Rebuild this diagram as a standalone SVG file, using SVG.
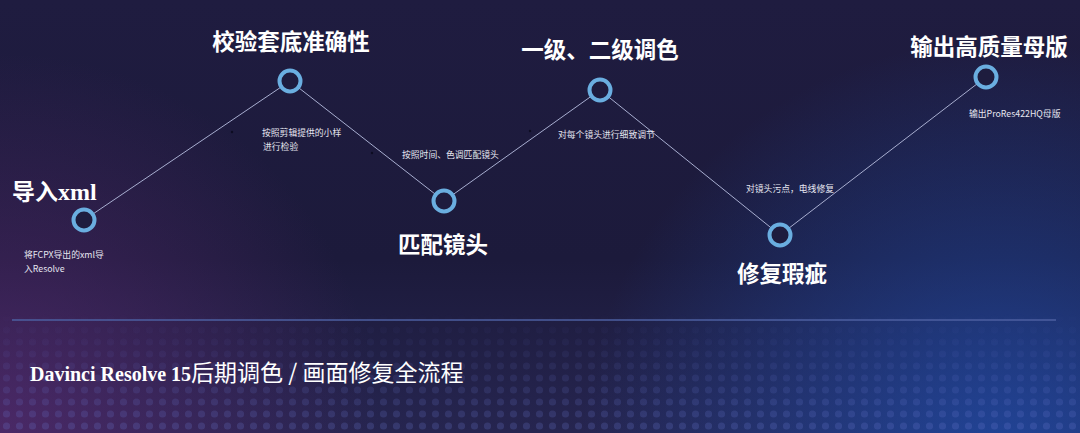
<svg xmlns="http://www.w3.org/2000/svg" width="1080" height="433" viewBox="0 0 1080 433">
<defs>
<linearGradient id="bg" x1="0" y1="0" x2="0" y2="1">
<stop offset="0" stop-color="#1f1c40"/>
<stop offset="0.6" stop-color="#1c1a3b"/>
<stop offset="1" stop-color="#262550"/>
</linearGradient>
<radialGradient id="purp" cx="0" cy="433" r="380" gradientUnits="userSpaceOnUse">
<stop offset="0" stop-color="#5a2a70" stop-opacity="0.7"/>
<stop offset="1" stop-color="#5a2a70" stop-opacity="0"/>
</radialGradient>
<radialGradient id="blue" cx="1000" cy="460" r="420" gradientUnits="userSpaceOnUse">
<stop offset="0" stop-color="#1f4fb0" stop-opacity="0.75"/>
<stop offset="1" stop-color="#1f4fb0" stop-opacity="0"/>
</radialGradient>
<pattern id="dots" width="13" height="12" patternUnits="userSpaceOnUse">
<circle cx="6.5" cy="6" r="3.6" fill="#6a78d0"/>
</pattern>
<linearGradient id="fade" x1="0" y1="0" x2="0" y2="1">
<stop offset="0" stop-color="#fff" stop-opacity="0"/>
<stop offset="1" stop-color="#fff" stop-opacity="0.25"/>
</linearGradient>
<mask id="m">
<rect x="0" y="310" width="1080" height="123" fill="url(#fade)"/>
</mask>
<style>
.node circle{fill:#1e1c3e;stroke:#6aaee0;stroke-width:4}
.title{font-family:"Noto Sans CJK SC","Noto Sans",sans-serif;font-weight:bold;font-size:22.5px;fill:#ffffff}
.small{font-family:"Noto Sans CJK SC","Noto Sans",sans-serif;font-size:8.8px;fill:#e6e6f0}
.serif{font-family:"Liberation Serif","Noto Sans CJK SC",serif;font-weight:bold}
.conn line{stroke:#a8aed0;stroke-width:1}
</style>
</defs>
<rect width="1080" height="433" fill="url(#bg)"/>
<rect width="1080" height="433" fill="url(#purp)"/>
<rect width="1080" height="433" fill="url(#blue)"/>
<rect x="0" y="310" width="1080" height="123" fill="url(#dots)" mask="url(#m)"/>
<line x1="12" y1="320" x2="1056" y2="320" stroke="#4d5fa0" stroke-width="1.5"/>

<g id="connectors" class="conn">
<line x1="84" y1="220" x2="290" y2="81"/>
<line x1="290" y1="81" x2="444" y2="201"/>
<line x1="444" y1="201" x2="600" y2="90"/>
<line x1="600" y1="90" x2="780" y2="235"/>
<line x1="780" y1="235" x2="986" y2="77"/>
</g>

<g id="bullets" fill="#0e0d22">
<circle cx="232" cy="132" r="1.2"/>
<circle cx="372" cy="153" r="1.2"/>
<circle cx="530" cy="131" r="1.2"/>
</g>

<g id="node-import" class="node">
<circle cx="84" cy="220" r="10.5"/>
<text x="12" y="200" class="title" style="font-size:23px">导入<tspan class="serif" style="font-size:24px">xml</tspan></text>
<text class="small"><tspan x="24" y="258">将FCPX导出的xml导</tspan><tspan x="24" y="272">入Resolve</tspan></text>
</g>

<g id="node-verify" class="node">
<circle cx="290" cy="81" r="10.5"/>
<text x="291" y="50" class="title" text-anchor="middle">校验套底准确性</text>
<text class="small"><tspan x="262" y="136">按照剪辑提供的小样</tspan><tspan x="263" y="150">进行检验</tspan></text>
</g>

<g id="node-match" class="node">
<circle cx="444" cy="201" r="10.5"/>
<text x="443" y="253" class="title" text-anchor="middle">匹配镜头</text>
<text x="402" y="158" class="small">按照时间、色调匹配镜头</text>
</g>

<g id="node-grade" class="node">
<circle cx="600" cy="90" r="10.5"/>
<text x="600" y="58" class="title" text-anchor="middle">一级、二级调色</text>
<text x="558" y="138" class="small">对每个镜头进行细致调节</text>
</g>

<g id="node-repair" class="node">
<circle cx="780" cy="235" r="10.5"/>
<text x="782" y="282" class="title" text-anchor="middle">修复瑕疵</text>
<text x="746" y="192" class="small">对镜头污点，电线修复</text>
</g>

<g id="node-output" class="node">
<circle cx="986" cy="77" r="10.5"/>
<text x="989" y="55" class="title" text-anchor="middle">输出高质量母版</text>
<text x="969" y="117" class="small">输出ProRes422HQ母版</text>
</g>

<text x="30" y="381" style="font-family:'Noto Sans CJK SC','Noto Sans',sans-serif;font-size:23px;fill:#ffffff"><tspan class="serif" style="font-size:20px">Davinci Resolve 15</tspan>后期调色 / 画面修复全流程</text>
</svg>
